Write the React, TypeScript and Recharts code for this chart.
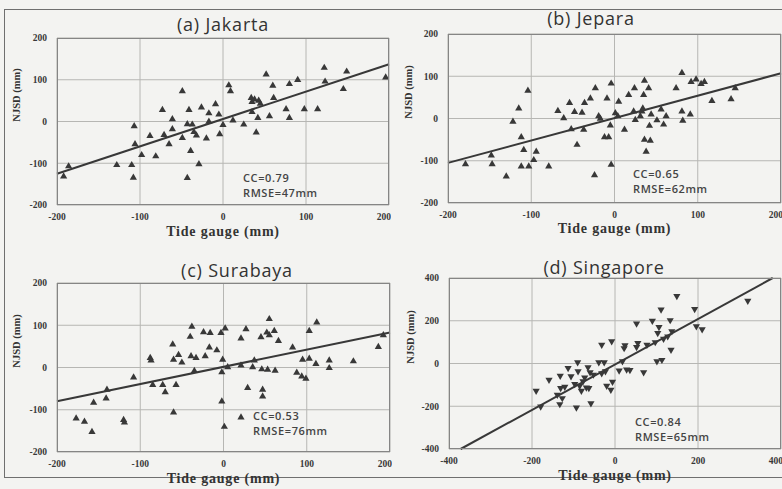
import React from "react";
import { CartesianGrid, ReferenceLine, Scatter, ScatterChart, XAxis, YAxis } from "recharts";

// tide gauge (mm), NJSD (mm) pairs
const jakarta = [
  [-192, -130], [-186, -106], [-128, -103], [-110, -103], [-108, -133], [-107, -10],
  [-106, -53], [-98, -79], [-88, -33], [-81, -82], [-73, 29], [-71, -31], [-65, -53],
  [-61, 7], [-61, -17], [-49, 74], [-49, -38], [-43, -134], [-41, 29], [-43, -5],
  [-39, -69], [-37, -6], [-35, -24], [-32, -32], [-29, -101], [-26, 35], [-20, -39],
  [-17, 21], [-17, 1], [-9, 43], [-5, 18], [-4, -29], [0, -7], [7, 88], [9, 74],
  [12, 4], [25, -6], [34, 58], [35, 48], [35, 24], [38, 54], [40, -25], [42, 10],
  [43, 51], [45, 44], [52, 114], [56, 14], [60, 87], [61, 58], [76, 31], [80, 91],
  [80, 10], [90, 101], [98, 31], [114, 31], [122, 130], [123, 97], [145, 79],
  [149, 121], [196, 107]
].map(([tg, njsd]) => ({ tg, njsd }));

const jepara = [
  [-179, -107], [-148, -86], [-147, -107], [-130, -136], [-122, -6], [-115, 25],
  [-112, -43], [-112, -112], [-109, -73], [-104, 67], [-103, -112], [-97, -97],
  [-94, -77], [-79, -112], [-68, 19], [-61, 2], [-54, 38], [-52, -24], [-45, -61],
  [-48, 17], [-39, 15], [-37, -25], [-36, 38], [-29, 49], [-24, -133], [-23, 73],
  [-19, 7], [-17, 1], [-12, -43], [-9, 49], [-7, -43], [-5, -15], [-4, 84],
  [-4, -108], [1, 14], [4, 7], [5, 41], [12, -25], [17, 57], [23, 18], [24, 73],
  [25, -2], [31, 7], [33, 18], [34, 25], [35, 57], [36, 91], [36, -49], [38, -77],
  [41, 73], [42, -16], [43, -51], [44, 11], [51, -3], [56, 23], [62, 7], [59, -13],
  [74, 73], [81, 109], [81, 18], [82, -4], [91, 11], [92, 88], [98, 94], [104, 83],
  [108, 88], [117, 43], [140, 47], [145, 73]
].map(([tg, njsd]) => ({ tg, njsd }));

const surabaya = [
  [-177, -119], [-167, -127], [-158, -151], [-156, -82], [-141, -72], [-140, -51],
  [-120, -123], [-119, -129], [-108, -22], [-88, 24], [-87, 18], [-85, -40],
  [-73, -40], [-70, -57], [-61, 56], [-60, 20], [-60, -105], [-57, -40], [-54, 31],
  [-50, 13], [-40, 74], [-39, 28], [-38, 98], [-35, -7], [-33, 24], [-24, 85],
  [-22, 28], [-17, 49], [-16, 83], [-8, 42], [-3, 83], [-2, -10], [-1, 20],
  [-2, -79], [1, -139], [2, 94], [5, 2], [21, 70], [21, -117], [21, 6], [27, 92],
  [29, -47], [35, 2], [37, 18], [45, 73], [46, -3], [47, -51], [47, -67], [52, 84],
  [53, -4], [55, 116], [55, 78], [61, 88], [62, -6], [66, 64], [83, 49], [88, -11],
  [94, -20], [95, 20], [99, -25], [103, 88], [103, 22], [111, 10], [112, 108],
  [127, 18], [127, 0], [156, 16], [186, 50], [192, 78]
].map(([tg, njsd]) => ({ tg, njsd }));

const singapore = [
  [-190, -130], [-179, -204], [-159, -79], [-139, -149], [-132, -60], [-133, -193],
  [-131, -118], [-127, -165], [-121, -112], [-113, -24], [-106, -63], [-97, -99],
  [-93, -209], [-90, 3], [-89, -39], [-85, -107], [-81, -130], [-77, -86], [-73, -68],
  [-69, -115], [-65, -20], [-63, -118], [-60, -44], [-58, -189], [-52, -55], [-39, 3],
  [-32, 85], [-32, -49], [-26, 3], [-23, -39], [-20, -107], [-10, -126], [-8, 101],
  [-6, -88], [10, -36], [18, 8], [22, 69], [24, 82], [28, -31], [36, -33], [52, 184],
  [52, 74], [55, 93], [69, -44], [77, 85], [90, 197], [97, 97], [101, 8], [103, 140],
  [106, 168], [111, 250], [113, 14], [117, 113], [127, 124], [133, 200], [135, 61],
  [137, 148], [149, 313], [192, 252], [196, 171], [210, 157], [320, 291]
].map(([tg, njsd]) => ({ tg, njsd }));

// fitted lines (end points in data units)
const jakartaFit = [{ x: -200, y: -125 }, { x: 200, y: 137 }];
const jeparaFit = [{ x: -200, y: -105 }, { x: 200, y: 107 }];
const surabayaFit = [{ x: -200, y: -80 }, { x: 200, y: 83 }];
const singaporeFit = [{ x: -372, y: -400 }, { x: 380, y: 400 }];

const ticks200 = [-200, -100, 0, 100, 200];
const ticks400 = [-400, -200, 0, 200, 400];
const minor200 = [-200, -180, -160, -140, -120, -100, -80, -60, -40, -20, 0, 20, 40, 60, 80, 100, 120, 140, 160, 180, 200];
const minor400 = [-400, -360, -320, -280, -240, -200, -160, -120, -80, -40, 0, 40, 80, 120, 160, 200, 240, 280, 320, 360, 400];

const ink = "#383838";
const serif = "'Liberation Serif', 'DejaVu Serif', serif";
const sans = "'Open Sans', 'Noto Sans', sans-serif";

const upTri = (p: any) => (
  <polygon
    points={`${p.cx},${p.cy - 3.6} ${p.cx - 3.6},${p.cy + 2.6} ${p.cx + 3.6},${p.cy + 2.6}`}
    fill={ink}
  />
);
const downTri = (p: any) => (
  <polygon
    points={`${p.cx},${p.cy + 3.6} ${p.cx - 3.6},${p.cy - 2.6} ${p.cx + 3.6},${p.cy - 2.6}`}
    fill={ink}
  />
);

type PanelProps = {
  plot: { x: number; y: number; w: number; h: number };
  title: string;
  titlePos: [number, number];
  cc: string;
  rmse: string;
  statPos: [number, number];
  xLabelY: number;
  yLabelX: number;
  lim: number;
  ticks: number[];
  minor: number[];
  data: { tg: number; njsd: number }[];
  fit: { x: number; y: number }[];
  shape: any;
};

function Panel(p: PanelProps) {
  const { x, y, w, h } = p.plot;
  const tick = { fill: ink, fontSize: 9.5, fontWeight: 700, fontFamily: serif };
  return (
    <>
      <div style={{ position: "absolute", left: x - 57, top: y - 10 }}>
        <ScatterChart width={w + 59} height={h + 50} margin={{ top: 10, right: 2, left: 0, bottom: 0 }}>
          <XAxis xAxisId="m" type="number" dataKey="tg" domain={[-p.lim, p.lim]} ticks={p.minor} hide />
          <YAxis yAxisId="m" type="number" dataKey="njsd" domain={[-p.lim, p.lim]} ticks={p.minor} hide />
          <CartesianGrid xAxisId="m" yAxisId="m" stroke="#dcdcd7" strokeWidth={0.7} />
          <CartesianGrid stroke="#b6b6b3" strokeWidth={1} />
          <XAxis
            type="number"
            dataKey="tg"
            domain={[-p.lim, p.lim]}
            ticks={p.ticks}
            height={40}
            tick={tick}
            tickLine={false}
            axisLine={false}
            tickMargin={2}
            allowDataOverflow
          />
          <YAxis
            type="number"
            dataKey="njsd"
            domain={[-p.lim, p.lim]}
            ticks={p.ticks}
            width={57}
            tick={tick}
            tickLine={false}
            axisLine={false}
            tickMargin={4}
            allowDataOverflow
          />
          <ReferenceLine segment={p.fit} stroke={ink} strokeWidth={2} ifOverflow="visible" />
          <Scatter data={p.data} shape={p.shape} isAnimationActive={false} />
        </ScatterChart>
      </div>
      <div
        style={{
          position: "absolute", left: x, top: y, width: w, height: h,
          border: "1.5px solid #858585", boxSizing: "border-box", pointerEvents: "none"
        }}
      />
      <div
        style={{
          position: "absolute", left: p.titlePos[0] - 110, top: p.titlePos[1] - 12, width: 220,
          textAlign: "center", fontFamily: sans, fontSize: 18, letterSpacing: 0.8, color: "#333",
          lineHeight: "24px"
        }}
      >
        {p.title}
      </div>
      <div
        style={{
          position: "absolute", left: p.statPos[0], top: p.statPos[1] - 8,
          fontFamily: sans, fontSize: 11, fontWeight: 600, letterSpacing: 0.6, color: "#444",
          lineHeight: "15px"
        }}
      >
        <div>{p.cc}</div>
        <div>{p.rmse}</div>
      </div>
      <div
        style={{
          position: "absolute", left: x + w / 2 - 110, top: p.xLabelY - 9, width: 220,
          textAlign: "center", fontFamily: serif, fontSize: 14, fontWeight: 700, letterSpacing: 0.8,
          color: "#333", lineHeight: "18px"
        }}
      >
        Tide gauge (mm)
      </div>
      <div
        style={{
          position: "absolute", left: p.yLabelX - 50, top: y + h / 2 - 34, width: 100,
          textAlign: "center", fontFamily: serif, fontSize: 10.5, fontWeight: 700, color: "#333",
          lineHeight: "14px", transform: "rotate(-90deg)"
        }}
      >
        NJSD (mm)
      </div>
    </>
  );
}

export default function App() {
  return (
    <div
      style={{
        position: "absolute", left: 0, top: 0, width: 782, height: 489,
        overflow: "hidden", background: "#f3f3f1"
      }}
    >
      <div
        style={{
          position: "absolute", left: 4, top: 9, width: 790, height: 469,
          border: "1.5px solid #6f6f6f", boxSizing: "border-box"
        }}
      />
      <Panel
        plot={{ x: 57, y: 38, w: 332, h: 167 }}
        title="(a) Jakarta" titlePos={[223, 24]}
        cc="CC=0.79" rmse="RMSE=47mm" statPos={[243, 178]}
        xLabelY={232} yLabelX={17}
        lim={200} ticks={ticks200} minor={minor200}
        data={jakarta} fit={jakartaFit} shape={upTri}
      />
      <Panel
        plot={{ x: 448, y: 34, w: 333, h: 169 }}
        title="(b) Jepara" titlePos={[591, 18]}
        cc="CC=0.65" rmse="RMSE=62mm" statPos={[633, 174]}
        xLabelY={229} yLabelX={409}
        lim={200} ticks={ticks200} minor={minor200}
        data={jepara} fit={jeparaFit} shape={upTri}
      />
      <Panel
        plot={{ x: 57, y: 283, w: 333, h: 169 }}
        title="(c) Surabaya" titlePos={[237, 270]}
        cc="CC=0.53" rmse="RMSE=76mm" statPos={[253, 416]}
        xLabelY={479} yLabelX={17}
        lim={200} ticks={ticks200} minor={minor200}
        data={surabaya} fit={surabayaFit} shape={upTri}
      />
      <Panel
        plot={{ x: 449, y: 278, w: 332, h: 171 }}
        title="(d) Singapore" titlePos={[604, 267]}
        cc="CC=0.84" rmse="RMSE=65mm" statPos={[635, 422]}
        xLabelY={476} yLabelX={411}
        lim={400} ticks={ticks400} minor={minor400}
        data={singapore} fit={singaporeFit} shape={downTri}
      />
    </div>
  );
}
